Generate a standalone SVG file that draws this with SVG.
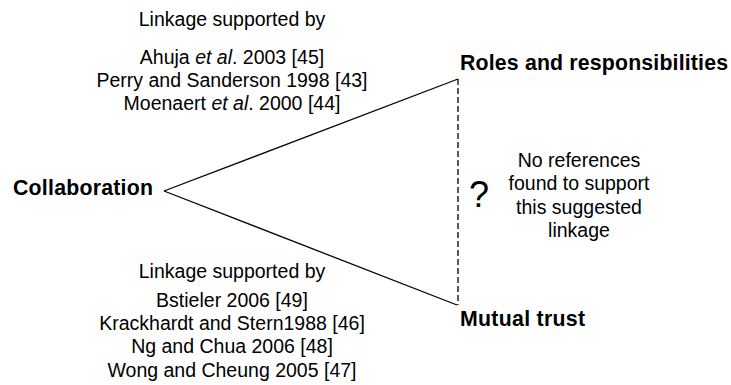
<svg xmlns="http://www.w3.org/2000/svg" width="731" height="385" viewBox="0 0 731 385">
<style>
.t{font-family:"Liberation Sans",Arial,sans-serif;font-size:19.5px;fill:#000;text-anchor:middle}
.b{font-family:"Liberation Sans",Arial,sans-serif;font-size:21.3px;font-weight:bold;fill:#000}
.ln{stroke:#000;stroke-width:1.3;fill:none}
.dash{stroke:#000;stroke-width:1.3;fill:none;stroke-dasharray:6 3}
</style>
<rect width="731" height="385" fill="#fff"/>
<g id="connectors">
<line class="ln" x1="164" y1="191" x2="458" y2="79"/>
<line class="ln" x1="164" y1="191" x2="457" y2="305"/>
<line class="dash" x1="458" y1="79" x2="458" y2="305"/>
</g>
<g id="collaboration"><text class="b" x="13" y="195" textLength="140" lengthAdjust="spacing">Collaboration</text></g>
<g id="roles"><text class="b" x="460" y="70" textLength="268" lengthAdjust="spacing">Roles and responsibilities</text></g>
<g id="trust"><text class="b" x="460" y="326" textLength="125" lengthAdjust="spacing">Mutual trust</text></g>
<g id="top-refs">
<text class="t" x="232" y="26">Linkage supported by</text>
<text class="t" x="232" y="64">Ahuja <tspan font-style="italic">et al</tspan>. 2003 [45]</text>
<text class="t" x="232" y="87">Perry and Sanderson 1998 [43]</text>
<text class="t" x="232" y="110">Moenaert <tspan font-style="italic">et al</tspan>. 2000 [44]</text>
</g>
<g id="bottom-refs">
<text class="t" x="232" y="278">Linkage supported by</text>
<text class="t" x="232" y="307">Bstieler 2006 [49]</text>
<text class="t" x="232" y="330">Krackhardt and Stern1988 [46]</text>
<text class="t" x="232" y="353">Ng and Chua 2006 [48]</text>
<text class="t" x="232" y="377">Wong and Cheung 2005 [47]</text>
</g>
<g id="no-refs">
<text x="469" y="207" style="font-family:'Liberation Sans',Arial,sans-serif;font-size:36px">?</text>
<text class="t" x="579" y="167">No references</text>
<text class="t" x="579" y="190">found to support</text>
<text class="t" x="579" y="214">this suggested</text>
<text class="t" x="579" y="237">linkage</text>
</g>
</svg>
